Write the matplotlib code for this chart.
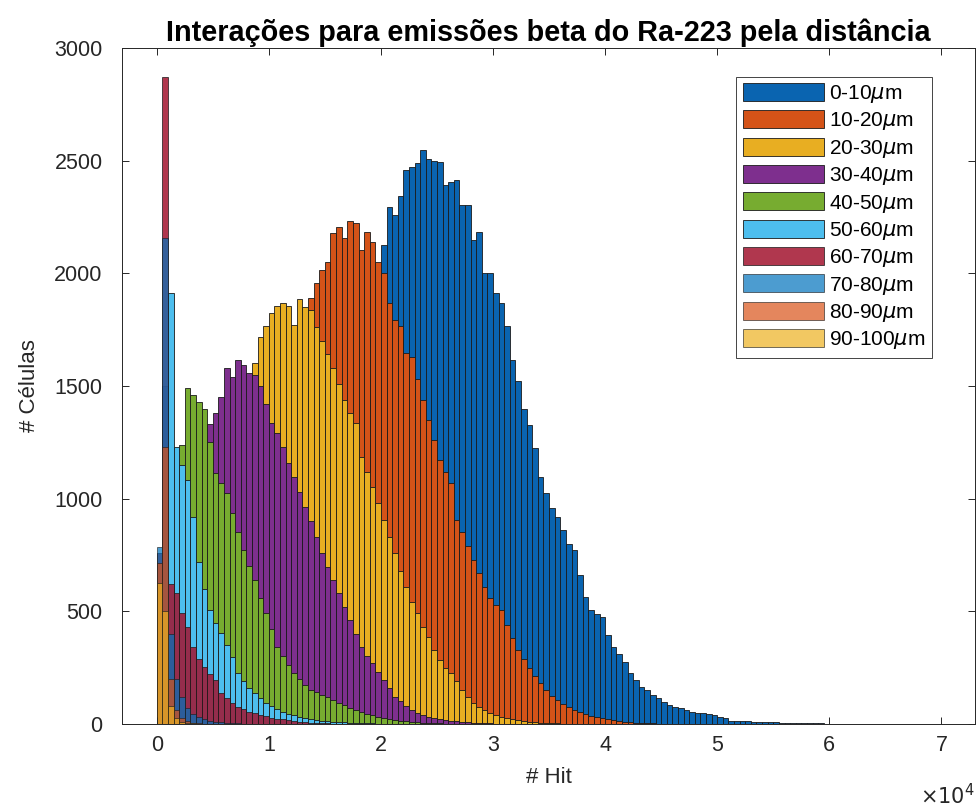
import matplotlib.pyplot as plt
import numpy as np

plt.rcParams['font.family'] = ['Liberation Sans', 'DejaVu Sans']

# largura das classes do histograma (# hits)
bin_width = 500

labels = [r'0-10$\mu$m', r'10-20$\mu$m', r'20-30$\mu$m', r'30-40$\mu$m',
          r'40-50$\mu$m', r'50-60$\mu$m', r'60-70$\mu$m', r'70-80$\mu$m',
          r'80-90$\mu$m', r'90-100$\mu$m']

colors = ['#0a64b0', '#d45318', '#e8ae22', '#7e2f8e', '#77ac30',
          '#4dbeee', '#a2142f', '#0072bd', '#d95319', '#edb120']
alphas = [1, 1, 1, 1, 1, 1, 0.85, 0.7, 0.7, 0.7]

# contagens por classe, a partir de 0 hits
d_0_10 = [0, 1, 2, 3, 5, 8, 12, 16, 22, 28,
          35, 50, 70, 95, 125, 160, 200, 250, 300, 360,
          430, 500, 580, 660, 750, 840, 930, 1020, 1110, 1200,
          1290, 1380, 1470, 1560, 1650, 1730, 1810, 1880, 1950, 2020,
          2126, 2296, 2259, 2341, 2459, 2471, 2488, 2548, 2506, 2500,
          2493, 2392, 2407, 2415, 2304, 2304, 2148, 2185, 2000, 2000,
          1912, 1867, 1764, 1616, 1520, 1400, 1327, 1224, 1098, 1024,
          960, 920, 861, 800, 772, 661, 565, 506, 490, 476,
          395, 343, 310, 277, 225, 195, 166, 150, 129, 115,
          99, 84, 77, 70, 62, 55, 50, 47, 43, 40,
          32, 25, 15, 14, 13, 12, 10, 9, 8, 8,
          7, 6, 5, 5, 4, 4, 3, 3, 3, 2,
          2, 2, 2, 1, 1, 1, 1, 1, 1, 1,
          1, 0, 1, 0, 1, 0, 0, 1, 0, 1]
d_10_20 = [0, 0, 0, 0, 0, 10, 20, 40, 70, 110,
           160, 220, 300, 390, 480, 580, 680, 790, 900, 1010,
           1120, 1230, 1340, 1450, 1560, 1680, 1790, 1890, 1956, 2015,
           2052, 2178, 2207, 2156, 2230, 2225, 2104, 2185, 2141, 2052,
           2000, 1867, 1793, 1764, 1645, 1630, 1530, 1438, 1349, 1260,
           1172, 1120, 1070, 905, 850, 790, 728, 670, 609, 560,
           530, 506, 440, 380, 330, 290, 250, 215, 180, 150,
           125, 105, 88, 75, 62, 52, 43, 36, 30, 25,
           20, 16, 13, 10, 8, 6, 5, 4, 3, 2,
           2, 1, 1, 1, 0, 1]
d_20_30 = [0, 0, 0, 0, 5, 20, 60, 120, 200, 300,
           400, 520, 650, 790, 940, 1090, 1420, 1600, 1719, 1764,
           1823, 1853, 1867, 1853, 1771, 1885, 1850, 1838, 1760, 1700,
           1640, 1580, 1510, 1438, 1380, 1335, 1187, 1120, 1053, 980,
           905, 830, 757, 680, 609, 540, 492, 430, 388, 330,
           284, 250, 226, 190, 151, 120, 92, 75, 60, 47,
           38, 30, 25, 20, 16, 12, 10, 8, 6, 5,
           4, 3, 2, 2, 1, 1, 1]
d_30_40 = [0, 50, 150, 300, 500, 700, 900, 1050, 1200, 1330,
           1380, 1450, 1579, 1542, 1616, 1594, 1556, 1549, 1500, 1420,
           1335, 1290, 1231, 1160, 1098, 1030, 965, 900, 830, 760,
           698, 640, 580, 520, 462, 400, 343, 300, 269, 230,
           195, 160, 121, 100, 80, 62, 50, 40, 33, 27,
           22, 18, 15, 12, 10, 8, 6, 5, 4, 3,
           2, 2, 1, 1, 1]
d_40_50 = [30, 150, 450, 850, 1238, 1491, 1460, 1430, 1400, 1250,
           1113, 1070, 1024, 937, 850, 772, 700, 640, 560, 492,
           420, 343, 300, 260, 226, 200, 175, 152, 140, 128,
           118, 108, 95, 82, 70, 60, 52, 45, 38, 32,
           27, 22, 18, 15, 12, 10, 8, 6, 5, 4,
           3, 2, 2, 1, 1]
d_50_60 = [250, 1500, 1913, 1230, 1150, 1083, 920, 720, 600, 506,
           450, 404, 350, 299, 226, 190, 160, 137, 115, 95,
           80, 66, 55, 46, 38, 32, 27, 22, 18, 15,
           12, 10, 8, 7, 6, 5, 4, 3, 3, 2, 2]
d_60_70 = [760, 2870, 620, 581, 492, 432, 343, 290, 253, 220,
           195, 137, 115, 95, 76, 65, 55, 47, 40, 34,
           28, 24, 20, 16, 13, 10, 8, 6, 5, 4,
           3, 2, 2, 1]
d_70_80 = [786, 2157, 400, 200, 120, 70, 45, 30, 20, 14,
           10, 7, 5, 4, 3, 2, 2, 1, 1]
d_80_90 = [714, 1230, 200, 60, 25, 12, 6, 3, 2, 1]
d_90_100 = [626, 500, 80, 25, 10, 5, 3, 2, 1]

series = [d_0_10, d_10_20, d_20_30, d_30_40, d_40_50,
          d_50_60, d_60_70, d_70_80, d_80_90, d_90_100]

fig = plt.figure(figsize=(9.79, 8.08), dpi=100)
ax = fig.add_axes([0.1246, 0.104, 0.8714, 0.8366])

handles = []
for counts, color, alpha, label in zip(series, colors, alphas, labels):
    left = np.arange(len(counts)) * bin_width
    bars = ax.bar(left, counts, width=bin_width, align='edge',
                  color=color, alpha=alpha, edgecolor='#1a1a1a',
                  linewidth=0.6, label=label)
    handles.append(bars)

ax.set_xlim(-3100, 73000)
ax.set_ylim(0, 3000)
ax.set_xticks(np.arange(0, 70001, 10000))
ax.set_xticklabels([str(i) for i in range(8)])
ax.set_yticks(np.arange(0, 3001, 500))

axis_color = '#262626'
for sp in ax.spines.values():
    sp.set_color(axis_color)
    sp.set_linewidth(0.7)
ax.tick_params(direction='in', length=5, width=0.7, colors=axis_color,
               labelsize=15.5, top=True, right=True)
ax.tick_params(axis='y', pad=14)
ax.tick_params(axis='x', pad=8)

ax.set_title('Interações para emissões beta do Ra-223 pela distância',
             fontsize=20.8, fontweight='bold', pad=5)
ax.set_xlabel('# Hit', fontsize=16, color=axis_color, labelpad=8)
ax.set_ylabel('# Células', fontsize=16, color=axis_color, labelpad=10)
ax.text(1.0, -0.106, r'$\times10^4$', transform=ax.transAxes,
        ha='right', va='center', fontsize=15, color=axis_color)

leg = ax.legend(handles=handles, loc='upper right',
                bbox_to_anchor=(0.9493, 0.9575), borderaxespad=0,
                fontsize=15, handlelength=3.9, handleheight=0.95,
                handletextpad=0.25, labelspacing=0.25, borderpad=0.3,
                fancybox=False, framealpha=1)
leg.get_frame().set_edgecolor(axis_color)
leg.get_frame().set_linewidth(0.6)

fig.savefig('out.png', dpi=100, facecolor='white')
